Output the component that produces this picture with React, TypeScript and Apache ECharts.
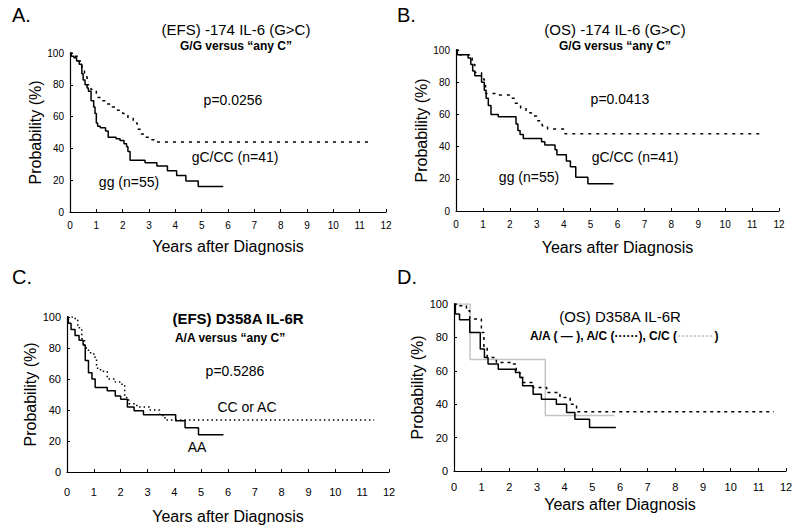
import React, { useEffect, useRef } from "react";
import * as echarts from "echarts";

// Panel A: EFS, -174 IL-6 (G>C)
const efsIl6GG: [number, number][] = [
  [0, 100], [0.05, 98], [0.15, 97], [0.25, 95], [0.35, 93], [0.45, 87], [0.5, 83], [0.57, 80],
  [0.65, 78], [0.7, 76], [0.8, 70], [0.9, 66], [0.95, 62], [1.0, 56], [1.05, 54], [1.15, 53],
  [1.35, 51], [1.45, 47], [1.75, 46], [1.9, 45], [2.05, 43], [2.15, 41], [2.2, 38], [2.28, 32.5],
  [2.85, 31], [3.3, 29], [3.7, 26], [4.05, 23], [4.4, 19.5], [4.87, 16], [5.82, 16],
];
const efsIl6AnyC: [number, number][] = [
  [0, 100], [0.1, 98], [0.3, 95], [0.45, 90], [0.55, 85], [0.65, 80], [0.8, 77], [1.0, 72],
  [1.2, 70], [1.4, 68], [1.6, 66], [1.8, 64], [2.0, 62], [2.2, 59], [2.4, 56], [2.55, 52],
  [2.7, 49], [2.85, 47], [3.0, 45.5], [3.2, 44], [11.4, 44],
];

// Panel B: OS, -174 IL-6 (G>C)
const osIl6GG: [number, number][] = [
  [0, 100], [0.05, 97], [0.45, 95], [0.55, 91], [0.62, 87], [0.7, 84], [0.95, 80], [1.05, 75],
  [1.12, 70], [1.2, 65.5], [1.3, 60], [1.57, 58.5], [2.23, 54], [2.3, 50], [2.38, 47.5], [2.5, 45],
  [3.18, 43], [3.3, 41], [3.68, 38], [3.75, 35], [4.1, 31], [4.25, 27.5], [4.45, 21], [4.9, 17],
  [5.85, 17],
];
const osIl6AnyC: [number, number][] = [
  [0, 100], [0.1, 97], [0.5, 95], [0.6, 91], [0.7, 86], [0.95, 82], [1.05, 78], [1.1, 73],
  [1.6, 72], [2.05, 70], [2.2, 67], [2.4, 64], [2.6, 61], [2.8, 59], [3.0, 56], [3.2, 53],
  [3.4, 51], [4.05, 48], [11.3, 48],
];

// Panel C: EFS, D358A IL-6R
const efsIl6rAA: [number, number][] = [
  [0, 100], [0.05, 96], [0.15, 92], [0.3, 88], [0.45, 85], [0.6, 82], [0.68, 72], [0.8, 64],
  [0.93, 60], [1.05, 54.5], [1.5, 52.5], [1.8, 49], [2.0, 47], [2.25, 42], [2.5, 39.5],
  [2.85, 37], [4.05, 33], [4.4, 28.5], [4.9, 24], [5.83, 24],
];
const efsIl6rAnyC: [number, number][] = [
  [0, 100], [0.2, 99], [0.4, 93], [0.55, 86], [0.65, 80], [0.8, 77], [1.0, 74], [1.1, 67],
  [1.25, 65], [1.5, 60], [1.8, 58], [2.05, 56], [2.15, 48], [2.3, 44], [2.6, 42], [3.1, 40],
  [3.45, 36.5], [3.65, 33.5], [11.45, 33.5],
];

// Panel D: OS, D358A IL-6R
const osIl6rAA: [number, number][] = [
  [0, 100], [0.05, 94], [0.2, 90.5], [0.57, 83], [0.95, 73], [1.1, 68], [1.23, 64], [1.6, 61],
  [2.22, 59], [2.38, 56], [2.48, 51], [2.86, 46], [3.16, 43], [3.7, 40], [4.07, 35], [4.37, 31],
  [4.9, 26], [5.85, 26],
];
const osIl6rAC: [number, number][] = [
  [0, 100], [0.15, 99], [0.45, 96], [0.57, 91], [0.99, 83], [1.08, 74], [1.2, 68], [1.53, 65],
  [2.14, 64], [2.25, 59], [2.38, 56], [2.5, 53], [2.86, 50], [3.35, 47], [3.83, 44], [4.2, 40],
  [4.43, 35.5], [11.56, 35.5],
];
const osIl6rCC: [number, number][] = [
  [0, 100], [0.58, 66.7], [3.3, 33.3], [5.8, 33.3],
];

const FONT = '"Liberation Sans", Arial, Helvetica, sans-serif';

const grids = [
  { left: 70, top: 53, width: 316, height: 159 },
  { left: 456, top: 50, width: 323, height: 161 },
  { left: 67, top: 317, width: 322, height: 155 },
  { left: 454, top: 304, width: 332, height: 167 },
];
const xNameGaps = [26, 28, 36, 25];
const yNameGaps = [24, 27, 19, 25];
const xLabelMargins = [8, 8, 14, 10];
const tickFont = [10, 10, 11, 11];

function txt(text: string, x: number, y: number, size: number, bold = false, align = "center", extra: any = {}) {
  return {
    type: "text",
    x,
    y,
    style: {
      text,
      fill: "#000",
      fontSize: size,
      fontWeight: bold ? "bold" : "normal",
      fontFamily: FONT,
      align,
      verticalAlign: "middle",
      ...extra,
    },
  };
}

export default function App() {
  const ref = useRef<HTMLDivElement>(null);
  useEffect(() => {
    if (!ref.current) return;
    const chart = echarts.init(ref.current, undefined, { renderer: "svg" });
    const xAxis = grids.map((_, i) => ({
      gridIndex: i,
      type: "value",
      min: 0,
      max: 12,
      interval: 1,
      axisLine: { show: true, lineStyle: { color: "#000", width: 1.2 } },
      axisTick: { show: true, inside: true, length: 3, lineStyle: { color: "#000" } },
      axisLabel: { color: "#000", fontSize: tickFont[i], fontFamily: FONT, margin: xLabelMargins[i] },
      splitLine: { show: false },
      name: "Years after Diagnosis",
      nameLocation: "middle",
      nameGap: xNameGaps[i],
      nameTextStyle: { color: "#000", fontSize: 16, fontFamily: FONT },
    }));
    const yAxis = grids.map((_, i) => ({
      gridIndex: i,
      type: "value",
      min: 0,
      max: 100,
      interval: 20,
      axisLine: { show: true, lineStyle: { color: "#000", width: 1.2 } },
      axisTick: { show: true, inside: true, length: 3, lineStyle: { color: "#000" } },
      axisLabel: { color: "#000", fontSize: tickFont[i], fontFamily: FONT, margin: 6 },
      splitLine: { show: false },
      name: "Probability (%)",
      nameLocation: "middle",
      nameGap: yNameGaps[i],
      nameTextStyle: { color: "#000", fontSize: 16, fontFamily: FONT },
    }));
    const solid = (data: [number, number][], i: number, name: string) => ({
      type: "line", name, xAxisIndex: i, yAxisIndex: i, data, step: "end", showSymbol: false,
      lineStyle: { color: "#000", width: 1.5, type: "solid" },
    });
    const dotted = (data: [number, number][], i: number, name: string, dash: number[]) => ({
      type: "line", name, xAxisIndex: i, yAxisIndex: i, data, step: "end", showSymbol: false,
      lineStyle: { color: "#000", width: 1.5, type: dash },
    });
    const series: any[] = [
      solid(efsIl6GG, 0, "gg (n=55)"),
      dotted(efsIl6AnyC, 0, "gC/CC (n=41)", [3, 5]),
      solid(osIl6GG, 1, "gg (n=55)"),
      dotted(osIl6AnyC, 1, "gC/CC (n=41)", [3, 5]),
      solid(efsIl6rAA, 2, "AA"),
      dotted(efsIl6rAnyC, 2, "CC or AC", [1.5, 3]),
      {
        type: "line", name: "C/C", xAxisIndex: 3, yAxisIndex: 3, data: osIl6rCC, step: "end", showSymbol: false,
        lineStyle: { color: "#c4c4c4", width: 1.5, type: "solid" },
      },
      solid(osIl6rAA, 3, "A/A"),
      dotted(osIl6rAC, 3, "A/C", [3, 4]),
    ];
    const graphic: any[] = [
      txt("A.", 12, 15, 20, false, "left"),
      txt("B.", 397, 15, 20, false, "left"),
      txt("C.", 12, 277, 20, false, "left"),
      txt("D.", 397, 277, 20, false, "left"),
      txt("(EFS) -174 IL-6 (G>C)", 236, 29, 15),
      txt("G/G versus \u201cany C\u201d", 236, 46, 12, true),
      txt("p=0.0256", 233, 100, 14),
      txt("gC/CC (n=41)", 235, 157, 14),
      txt("gg (n=55)", 129, 182, 14),
      txt("(OS) -174 IL-6 (G>C)", 615, 29, 15),
      txt("G/G versus \u201cany C\u201d", 615, 46, 12, true),
      txt("p=0.0413", 620, 99, 14),
      txt("gC/CC (n=41)", 635, 157, 14),
      txt("gg (n=55)", 529, 177, 14),
      txt("(EFS) D358A IL-6R", 238, 318, 15, true),
      txt("A/A versus \u201cany C\u201d", 230, 338, 12, true),
      txt("p=0.5286", 235, 371, 14),
      txt("CC or AC", 247, 407, 14),
      txt("AA", 197, 447, 14),
      txt("(OS) D358A IL-6R", 620, 316, 15),
      txt("A/A ( \u2014 ), A/C (\u00b7\u00b7\u00b7\u00b7\u00b7\u00b7), C/C ({g|\u00b7\u00b7\u00b7\u00b7\u00b7\u00b7\u00b7\u00b7\u00b7}\u200a)", 624, 336, 12, true, "center", {
        rich: { g: { fill: "#c4c4c4", fontSize: 12, fontWeight: "bold", fontFamily: FONT } },
      }),
    ];
    chart.setOption({
      animation: false,
      backgroundColor: "#fff",
      grid: grids,
      xAxis,
      yAxis,
      series,
      graphic,
    } as any);
    return () => chart.dispose();
  }, []);
  return (
    <div
      ref={ref}
      style={{ position: "absolute", left: 0, top: 0, width: 800, height: 528, background: "#fff" }}
    />
  );
}
